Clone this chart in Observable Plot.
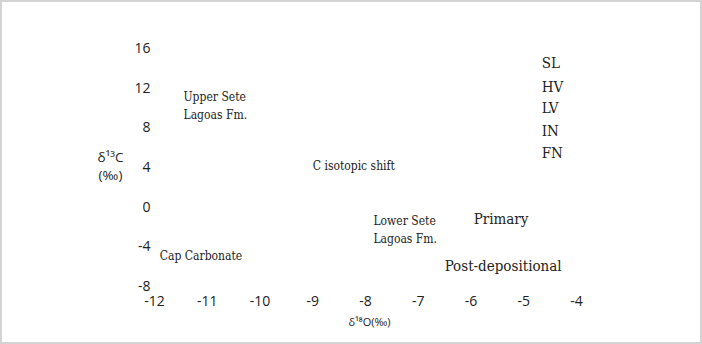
<!DOCTYPE html>
<html>
<head>
<meta charset="utf-8">
<script src="https://cdn.jsdelivr.net/npm/d3@7"></script>
<script src="https://cdn.jsdelivr.net/npm/@observablehq/plot@0.6"></script>
<style>
  html, body { margin: 0; padding: 0; background: #fff; }
  #wrap { position: relative; width: 702px; height: 344px; overflow: hidden; }
  #wrap svg { position: absolute; left: 0; top: 0; }
  #border { position: absolute; left: 0; top: 0; width: 702px; height: 344px; box-sizing: border-box; border: 2px solid #d4d4d4; pointer-events: none; }
</style>
</head>
<body>
<div id="wrap"><div id="border"></div></div>
<script>
// Axis ticks
const xTicks = [-12, -11, -10, -9, -8, -7, -6, -5, -4];
const yTicks = [16, 12, 8, 4, 0, -4, -8];

// Region / unit annotations (data coordinates: δ18O, δ13C)
const regionText = ["Upper Sete\nLagoas Fm.", "Cap Carbonate", "C isotopic shift", "Lower Sete\nLagoas Fm."];
const regionX = [-11.45, -11.9, -9.0, -7.85];
const regionY = [10.45, -4.67, 4.4, -2.05];

// Facies codes
const faciesText = ["SL", "HV", "LV", "IN", "FN"];
const faciesX = [-4.66, -4.66, -4.66, -4.66, -4.66];
const faciesY = [14.6, 12.2, 10.05, 7.75, 5.5];

// Process labels
const processText = ["Primary", "Post-depositional"];
const processX = [-5.95, -6.5];
const processY = [-1.14, -5.88];

const regions = regionText.map((t, i) => ({t, x: regionX[i], y: regionY[i]}));
const facies = faciesText.map((t, i) => ({t, x: faciesX[i], y: faciesY[i]}));
const processes = processText.map((t, i) => ({t, x: processX[i], y: processY[i]}));

const serif = "'DejaVu Serif Condensed', 'DejaVu Serif', serif";
const sans = "'Open Sans', sans-serif";

const chart = Plot.plot({
  width: 702,
  height: 344,
  marginLeft: 154,
  marginRight: 126,
  marginTop: 49,
  marginBottom: 57,
  style: {fontFamily: sans, color: "#222", background: "transparent"},
  x: {domain: [-12, -4]},
  y: {domain: [-8, 16]},
  marks: [
    Plot.axisX({ticks: xTicks, tickSize: 0, tickPadding: 9, fontSize: 14, label: null, tickFormat: d => String(d), fill: "#222"}),
    Plot.axisY({ticks: yTicks, tickSize: 0, tickPadding: 4, dy: -1, fontSize: 14, label: null, tickFormat: d => String(d), fill: "#222"}),
    Plot.text(["δ¹³C\n(‰)"], {frameAnchor: "left", dx: -44, dy: -3, textAnchor: "middle", lineHeight: 1.35, fontSize: 13.5, fontFamily: sans, fill: "#222"}),
    Plot.text(["δ¹⁸O(‰)"], {frameAnchor: "bottom", dy: 38, dx: 4, textAnchor: "middle", fontSize: 11, fontFamily: sans, fill: "#222"}),
    Plot.text(regions, {x: "x", y: "y", text: "t", textAnchor: "start", lineHeight: 1.45, fontSize: 12, fontFamily: serif, fill: "#222"}),
    Plot.text(facies, {x: "x", y: "y", text: "t", textAnchor: "start", fontSize: 15, fontFamily: serif, fill: "#222"}),
    Plot.text(processes, {x: "x", y: "y", text: "t", textAnchor: "start", fontSize: 15, fontFamily: serif, fill: "#222"})
  ]
});
document.getElementById("wrap").prepend(chart);
</script>
</body>
</html>
